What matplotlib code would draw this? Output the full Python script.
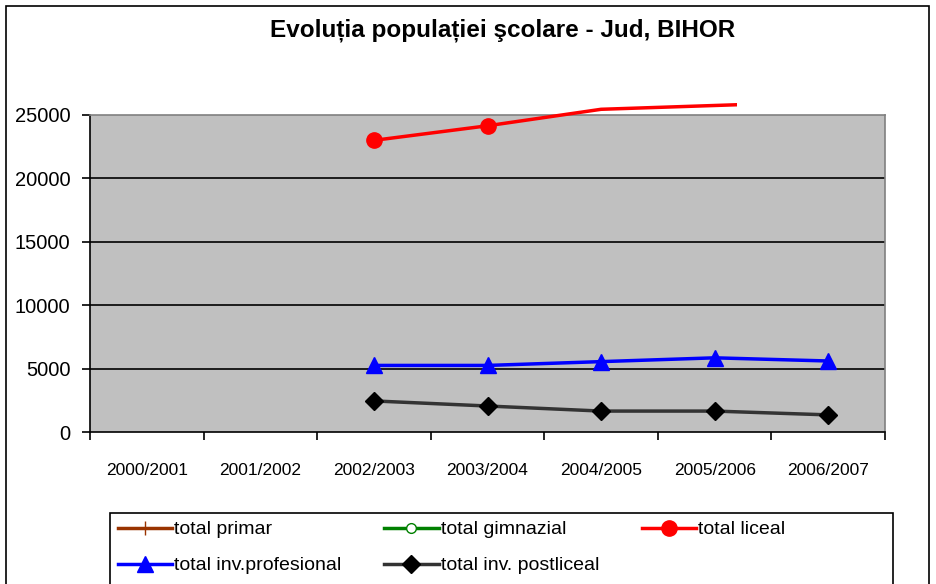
import numpy as np
import matplotlib
matplotlib.use("Agg")
import matplotlib.pyplot as plt
from matplotlib.patches import Rectangle

plt.rcParams['font.family'] = ['Liberation Sans', 'DejaVu Sans']

categories = ["2000/2001", "2001/2002", "2002/2003", "2003/2004",
              "2004/2005", "2005/2006", "2006/2007"]
nan = np.nan
total_primar = [nan, nan, nan, nan, nan, nan, nan]
total_gimnazial = [nan, nan, nan, nan, nan, nan, nan]
total_liceal = [nan, nan, 23000, 24150, 25450, 25750, 26050]
total_profesional = [nan, nan, 5250, 5250, 5550, 5850, 5600]
total_postliceal = [nan, nan, 2450, 2050, 1650, 1650, 1350]
yticks = [0, 5000, 10000, 15000, 20000, 25000]

W, H = 936, 584
fig = plt.figure(figsize=(W / 100, H / 100), dpi=100)
fig.patch.set_facecolor('white')

# chart border
fig.patches.append(Rectangle((6 / W, -0.05), (929 - 6) / W, 1.05 - 6 / H,
                             transform=fig.transFigure, fill=False,
                             edgecolor='black', lw=1.2))
# legend frame
fig.patches.append(Rectangle((110 / W, -0.05), (893 - 110) / W,
                             0.05 + (584 - 513) / H,
                             transform=fig.transFigure, fill=False,
                             edgecolor='black', lw=1.2))

ax = fig.add_axes([90 / W, 1 - 432 / H, (885 - 90) / W, (432 - 115) / H])
ax.set_facecolor('#C0C0C0')
x = np.arange(len(categories))
ax.set_xlim(-0.5, len(categories) - 0.5)
ymax = yticks[-1]
ax.set_ylim(0, ymax)

for v in yticks[1:-1]:
    ax.axhline(v, color='black', lw=1.2, zorder=1)

for s in ['top', 'right']:
    ax.spines[s].set_color('#808080')
    ax.spines[s].set_linewidth(1.2)
for s in ['left', 'bottom']:
    ax.spines[s].set_color('black')
    ax.spines[s].set_linewidth(1.2)

ax.set_yticks(yticks)
ax.set_yticklabels([str(v) for v in yticks], fontsize=14.5)
ax.tick_params(axis='y', direction='out', length=6, width=1.2, pad=8)

ax.set_xticks(np.arange(-0.5, len(categories)), labels=[])
ax.tick_params(axis='x', which='major', direction='out', length=6, width=1.2)
ax.set_xticks(x, minor=True)
ax.set_xticklabels(categories, minor=True, fontsize=12.5)
ax.tick_params(axis='x', which='minor', length=0, pad=22)

l_prim, = ax.plot(x, total_primar, color='#993300', marker='+', ms=10, lw=2.5,
                  label='total primar')
l_gim, = ax.plot(x, total_gimnazial, color='#008000', marker='o', ms=7,
                 mfc='white', mec='#008000', lw=2.5, label='total gimnazial')
# liceal: line drawn beyond the plot top, markers only inside the plot area
lic = np.array(total_liceal, dtype=float)
lic_line, = ax.plot(x, lic, color='#FF0000', lw=2.5, zorder=4)
clip = Rectangle((-0.5, 0), 5.7, 40000, transform=ax.transData)
lic_line.set_clip_path(clip)
ax.plot(x, np.where(lic <= ymax, lic, np.nan), color='#FF0000', marker='o',
        ms=11, ls='none', zorder=5)
l_lic, = ax.plot([], [], color='#FF0000', marker='o', ms=11, lw=2.5,
                 label='total liceal')
l_prof, = ax.plot(x, total_profesional, color='#0000FF', marker='^', ms=12,
                  lw=2.5, label='total inv.profesional', zorder=4)
l_post, = ax.plot(x, total_postliceal, color='#333333', marker='D', ms=9,
                  mfc='black', mec='black', lw=2.5,
                  label='total inv. postliceal', zorder=4)

fig.text(503 / W, 1 - 30 / H, 'Evoluția populației şcolare - Jud, BIHOR',
         ha='center', va='center', fontsize=17.5, fontweight='bold')

handles = [l_prim, l_prof, l_gim, l_post, l_lic]
labels = [h.get_label() for h in handles]
leg = fig.legend(handles, labels, ncol=3, loc='upper left',
                 bbox_to_anchor=(110 / W, 1 - 513 / H), fontsize=14,
                 frameon=False, handlelength=2.8, handletextpad=0.1,
                 columnspacing=2.2, borderpad=0.4, labelspacing=0.95,
                 borderaxespad=0)

fig.savefig('out.png', dpi=100)
